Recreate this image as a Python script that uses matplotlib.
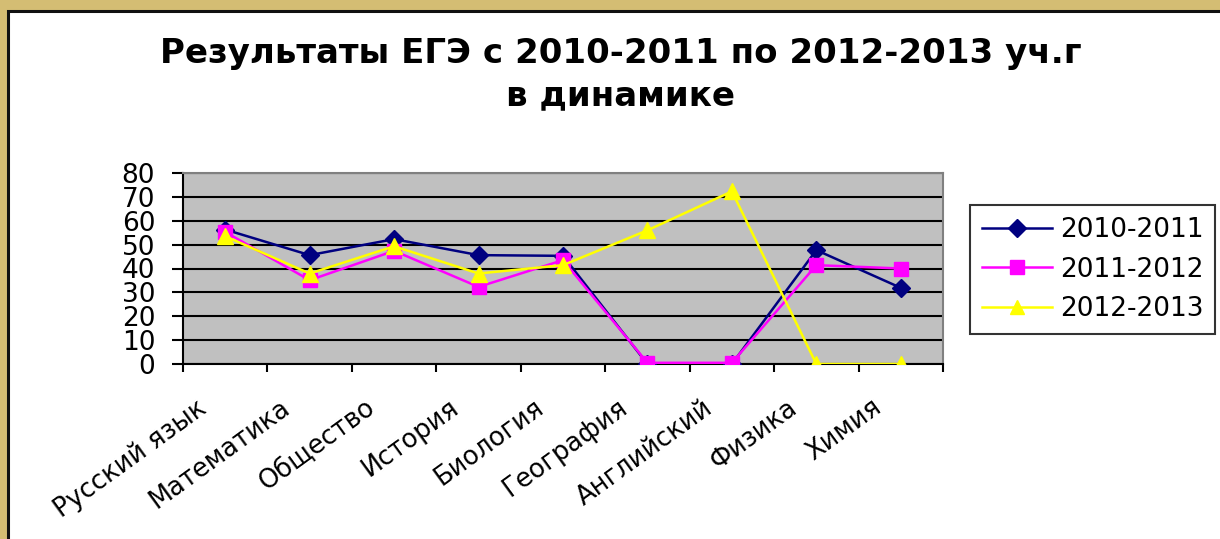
import matplotlib.pyplot as plt
from matplotlib.patches import Rectangle
import numpy as np

plt.rcParams['font.family'] = ['DejaVu Sans']

subjects = ['Русский язык', 'Математика', 'Общество', 'История', 'Биология',
            'География', 'Английский', 'Физика', 'Химия']
y2011 = [56.3, 45.6, 52.3, 45.6, 45.3, 0, 0, 47.7, 31.9]
y2012 = [55.3, 35.1, 47.4, 32.3, 43.5, 0.5, 0.5, 41.4, 40.0]
y2013 = [53.5, 37.9, 49.3, 37.9, 41.4, 56.0, 72.3, 0, 0]
series = ['2010-2011', '2011-2012', '2012-2013']

fig = plt.figure(figsize=(12.2, 5.39), dpi=100)
fig.patch.set_facecolor('#D4BD73')
# white card with a dark edge on left/top
fig.patches.append(Rectangle((8 / 1220, -0.05), 1.1, (539 - 11) / 539 + 0.05,
                             transform=fig.transFigure, facecolor='white',
                             edgecolor='#111111', linewidth=2.2, zorder=-5))

fig.text(0.509, 0.862, 'Результаты ЕГЭ с 2010-2011 по 2012-2013 уч.г\nв динамике',
         ha='center', va='center', fontsize=24.5, fontweight='bold', linespacing=1.35)

ax = fig.add_axes([183 / 1220, 1 - 364 / 539, 760 / 1220, 191 / 539])
ax.set_facecolor('#C0C0C0')
x = np.arange(len(subjects))

ax.plot(x, y2011, color='#000080', lw=1.8, marker='D', ms=9.5, label=series[0], zorder=3)
ax.plot(x, y2012, color='#FF00FF', lw=1.8, marker='s', ms=10, label=series[1], zorder=4)
ax.plot(x, y2013, color='#FFFF00', lw=1.8, marker='^', ms=11, label=series[2], zorder=5)

ax.set_xlim(-0.5, len(subjects) - 0.5)
ax.set_ylim(0, 80)
ax.set_yticks(range(0, 81, 10))
ax.tick_params(axis='y', labelsize=19, length=8, width=1.5, direction='out', pad=12)
ax.yaxis.grid(True, color='black', lw=1.5)
ax.set_axisbelow(True)

ax.set_xticks(np.arange(-0.5, len(subjects)), labels=[])
ax.tick_params(axis='x', which='major', length=6, width=1.5, direction='out')
# labels sit a bit left of the category centre, as in the original
ax.set_xticks(x - 0.35, minor=True)
ax.set_xticklabels(subjects, minor=True, rotation=36, ha='right', va='top',
                   rotation_mode='anchor', fontsize=18.5)
ax.tick_params(axis='x', which='minor', length=0, pad=22)

for s in ['top', 'right']:
    ax.spines[s].set_color('#808080')
    ax.spines[s].set_linewidth(1.5)
for s in ['left', 'bottom']:
    ax.spines[s].set_color('black')
    ax.spines[s].set_linewidth(1.5)

leg = fig.legend(loc='upper left', bbox_to_anchor=(970 / 1220, 1 - 205 / 539),
                 fontsize=19, frameon=True, fancybox=False, handlelength=2.65,
                 borderpad=0.45, labelspacing=0.52, handletextpad=0.3,
                 borderaxespad=0, markerscale=0.95)
leg.get_frame().set_edgecolor('black')
leg.get_frame().set_linewidth(1.5)

fig.savefig('out.png', dpi=100, facecolor=fig.get_facecolor())
